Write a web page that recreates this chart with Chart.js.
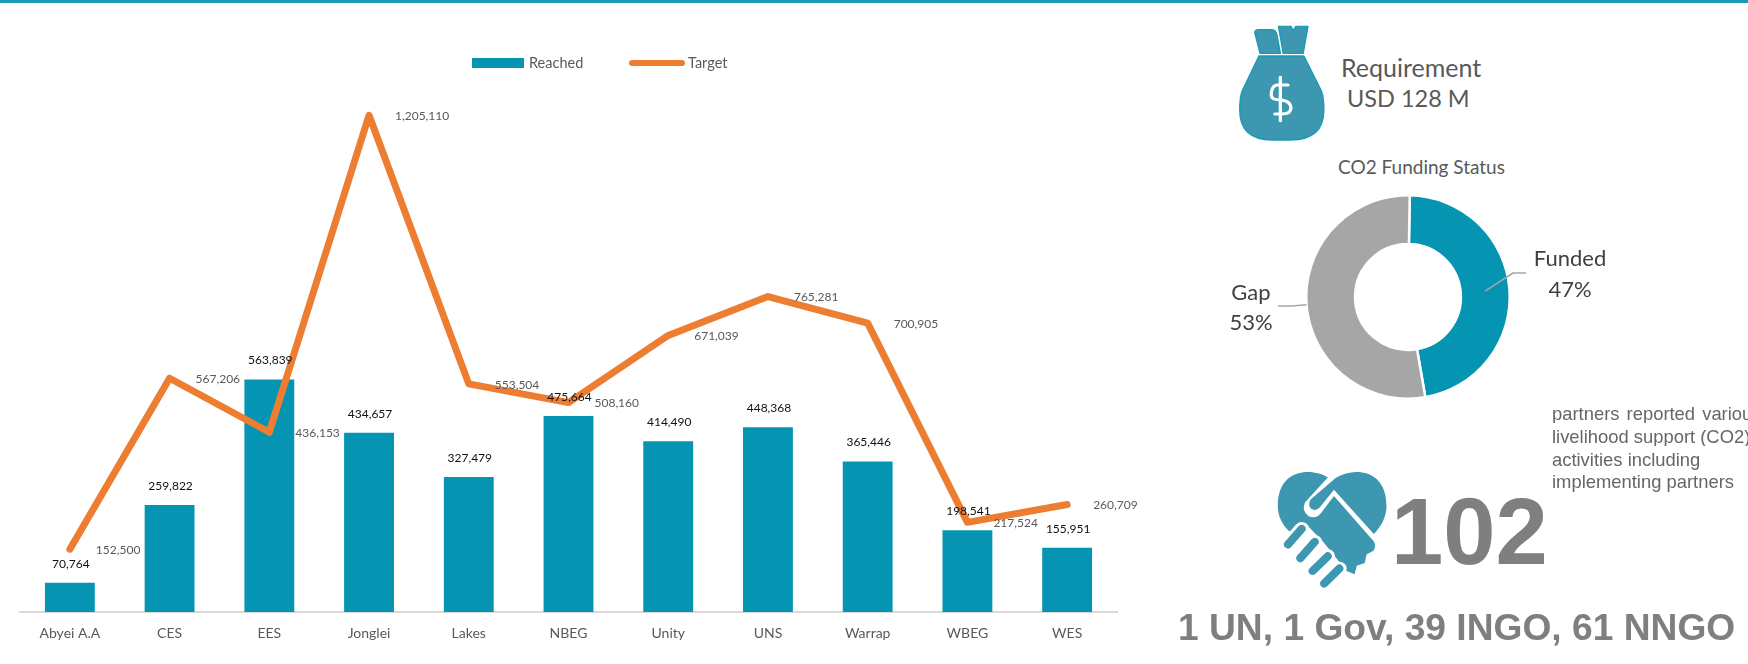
<!DOCTYPE html>
<html>
<head>
<meta charset="utf-8">
<script src="https://cdn.jsdelivr.net/npm/chart.js@4"></script>
<style>
html,body{margin:0;padding:0;background:#fff;width:1748px;height:664px;overflow:hidden}
#bar{position:absolute;left:0;top:0;width:1180px;height:664px}
#dn{position:absolute;left:1208px;top:172px;width:400px;height:250px}
.t{position:absolute;white-space:nowrap;line-height:1}
.a{font-family:"Liberation Sans",Arial,sans-serif}
.l{font-family:Lato,sans-serif;color:#595959}
svg{position:absolute}
#topbar{position:absolute;left:0;top:0;width:1748px;height:3px;background:#1a9ab5}
</style>
</head>
<body>
<div id="topbar"></div>
<canvas id="bar" width="1180" height="664"></canvas>
<svg style="left:1180px;top:0" width="568" height="200" viewBox="0 0 1568 600" preserveAspectRatio="none">
  <g fill="#3e97b1" stroke="#1b9ab5" stroke-width="4" stroke-linejoin="round">
    <path d="M218 168 L342 168 L390 272 Q397 290 397 330 Q397 420 305 420 L255 420 Q165 420 165 330 Q165 290 172 272 Z"/>
    <path d="M207 100 Q205 89 217 89 L252 89 Q264 89 267 102 L277 160 L221 160 Z"/>
    <path d="M272 79 L306 79 L313 92 L320 79 L353 79 L340 160 L285 160 Z"/>
  </g>
  <g fill="none" stroke="#fff" stroke-width="9" stroke-linecap="round">
    <path d="M298 255 L268 255 Q252 258 252 285 Q252 300 277 300 Q306 302 306 325 Q306 342 280 342 L262 342"/>
    <path d="M277 232 L277 362"/>
  </g>
</svg>
<div class="t l" style="left:1341px;top:55px;font-size:25px">Requirement</div>
<div class="t l" style="left:1347px;top:87px;font-size:23.5px">USD 128 M</div>
<div class="t l" style="left:1338px;top:157px;font-size:19px">CO2 Funding Status</div>
<canvas id="dn" width="400" height="250"></canvas>
<div class="t a" style="left:1552px;top:405px;font-size:18.4px;color:#666;word-spacing:2px;width:196px;overflow:hidden">partners reported various</div>
<div class="t a" style="left:1552px;top:428px;font-size:18.4px;color:#666;width:196px;overflow:hidden">livelihood support (CO2)</div>
<div class="t a" style="left:1552px;top:451px;font-size:18.4px;color:#666">activities including</div>
<div class="t a" style="left:1552px;top:473px;font-size:18.4px;color:#666">implementing partners</div>
<svg style="left:1180px;top:388px" width="568" height="281" viewBox="0 0 1568 822" preserveAspectRatio="none">
  <g fill="#3e97b1">
    <path d="M408 262 C370 235 270 230 270 345 C270 375 282 398 302 420 L345 395 L395 450 L460 535 L482 545 L488 520 L510 512 L515 487 L535 475 Q545 455 528 440 L425 316 L390 365 Q375 385 355 375 Q335 360 345 335 Z"/>
    <path d="M420 272 C460 232 570 225 570 345 C570 378 555 405 535 427 L425 298 L385 350 Q368 365 358 348 Q354 335 362 325 Z"/>
  </g>
  <g fill="none" stroke-linecap="round">
    <g stroke="#fff" stroke-width="40">
      <path d="M298 458 L336 412"/><path d="M332 498 L372 450"/><path d="M366 535 L408 492"/><path d="M398 572 L440 528"/>
    </g>
    <g stroke="#3e97b1" stroke-width="23">
      <path d="M298 458 L336 412"/><path d="M332 498 L372 450"/><path d="M366 535 L408 492"/><path d="M398 572 L440 528"/>
    </g>
  </g>
</svg>
<div class="t a" style="left:1391px;top:485px;font-size:94px;font-weight:700;color:#7f7f7f">102</div>
<div class="t a" style="left:1178px;top:609px;font-size:37.2px;font-weight:700;color:#7f7f7f">1 UN, 1 Gov, 39 INGO, 61 NNGO</div>
<script>
const categories = ["Abyei A.A","CES","EES","Jonglei","Lakes","NBEG","Unity","UNS","Warrap","WBEG","WES"];
const reached = [70764,259822,563839,434657,327479,475664,414490,448368,365446,198541,155951];
const target = [152500,567206,436153,1205110,553504,508160,671039,765281,700905,217524,260709];
const fundingLabels = ["Funded","Gap"];
const fundingShares = [47,53];

const TEAL = "#0595b2", ORANGE = "#ed7d31", GREY_TXT = "#595959";
const fmt = v => v.toLocaleString("en-US");

const labelsPlugin = {
  id: "valueLabels",
  afterDatasetsDraw(chart) {
    const c = chart.ctx;
    c.save();
    c.font = "12px Lato";
    c.textBaseline = "middle";
    chart.data.datasets.forEach((ds, i) => {
      chart.getDatasetMeta(i).data.forEach((el, j) => {
        if (ds.type === "bar") {
          c.textAlign = "center";
          c.fillStyle = "#111";
          c.fillText(fmt(ds.data[j]), el.x + 1, el.y - 19);
        } else {
          c.textAlign = "left";
          c.fillStyle = GREY_TXT;
          c.fillText(fmt(ds.data[j]), el.x + 26, el.y + 1);
        }
      });
    });
    // legend
    c.textAlign = "left";
    c.font = "14.5px Lato";
    c.fillStyle = TEAL;
    c.fillRect(472, 58, 52, 10);
    c.fillStyle = GREY_TXT;
    c.fillText(chart.data.datasets[1].label, 529, 63);
    c.strokeStyle = ORANGE;
    c.lineWidth = 6;
    c.lineCap = "round";
    c.beginPath(); c.moveTo(632, 63); c.lineTo(682, 63); c.stroke();
    c.fillText(chart.data.datasets[0].label, 688, 63);
    c.restore();
  }
};

new Chart(document.getElementById("bar"), {
  data: {
    labels: categories,
    datasets: [
      {type:"line", label:"Target", data:target, borderColor:ORANGE, borderWidth:7, tension:0,
       pointRadius:0, borderCapStyle:"round", borderJoinStyle:"round", fill:false, order:0},
      {type:"bar", label:"Reached", data:reached, backgroundColor:TEAL, barPercentage:1, categoryPercentage:0.5, order:1}
    ]
  },
  options: {
    responsive:false, animation:false, devicePixelRatio:1,
    layout:{padding:{left:20,right:63,top:35,bottom:0}},
    plugins:{legend:{display:false},tooltip:{enabled:false},title:{display:false}},
    scales:{
      x:{grid:{display:false,drawTicks:false},
         border:{color:"#d9d9d9",width:2},
         ticks:{color:GREY_TXT,font:{family:"Lato",size:14},padding:13,maxRotation:0,autoSkip:false},
         afterFit(s){s.height=52;}},
      y:{display:false,min:0,max:1400000}
    }
  },
  plugins:[labelsPlugin]
});

const donutPlugin = {
  id:"donutLabels",
  afterDraw(chart){
    const c = chart.ctx, arcs = chart.getDatasetMeta(0).data;
    const mid = a => (a.startAngle + a.endAngle)/2;
    const f = arcs[0], g = arcs[1];
    const rf = (f.innerRadius + f.outerRadius)/2;
    c.save();
    c.strokeStyle = "#a6a6a6"; c.lineWidth = 1.5; c.lineJoin = "round";
    c.beginPath();
    c.moveTo(f.x + rf*Math.cos(mid(f)), f.y + rf*Math.sin(mid(f)));
    c.lineTo(f.x + 105, f.y - 24);
    c.lineTo(f.x + 118, f.y - 24);
    c.stroke();
    c.beginPath();
    c.moveTo(g.x + g.outerRadius*Math.cos(mid(g)), g.y + g.outerRadius*Math.sin(mid(g)));
    c.lineTo(g.x - 116, g.y + 9);
    c.lineTo(g.x - 130, g.y + 9);
    c.stroke();
    c.fillStyle = "#404040"; c.font = "22px Lato"; c.textAlign = "center"; c.textBaseline = "middle";
    const vals = chart.data.datasets[0].data, labs = chart.data.labels;
    c.fillText(labs[0], f.x + 162, f.y - 38);
    c.fillText(vals[0] + "%", f.x + 162, f.y - 7);
    c.fillText(labs[1], g.x - 157, g.y - 4);
    c.fillText(vals[1] + "%", g.x - 157, g.y + 26);
    c.restore();
  }
};

new Chart(document.getElementById("dn"), {
  type:"doughnut",
  data:{labels:fundingLabels,datasets:[{data:fundingShares,backgroundColor:[TEAL,"#a6a6a6"],borderColor:"#fff",borderWidth:2.5}]},
  options:{
    responsive:false, animation:false, devicePixelRatio:1, cutout:"52%", rotation:1,
    layout:{padding:{left:97,right:97,top:22,bottom:22}},
    plugins:{legend:{display:false},tooltip:{enabled:false}}
  },
  plugins:[donutPlugin]
});
</script>
</body>
</html>
